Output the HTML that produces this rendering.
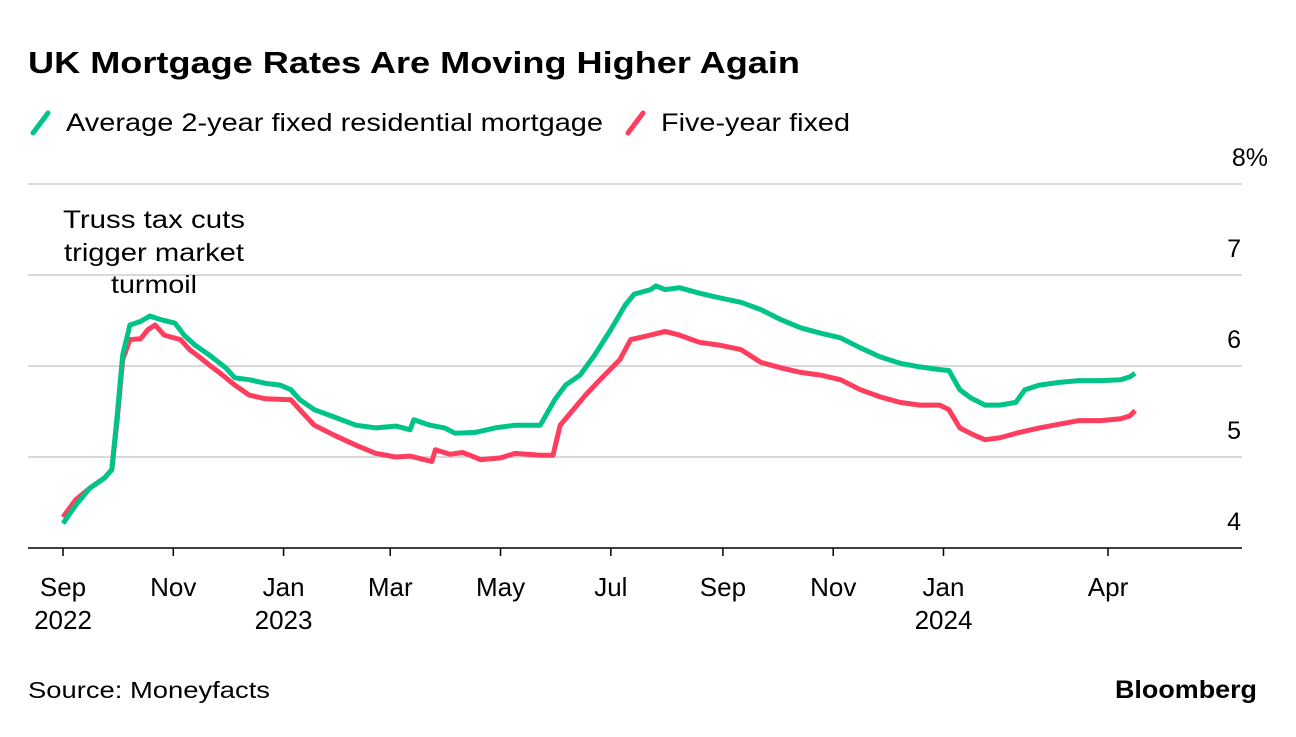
<!DOCTYPE html>
<html><head><meta charset="utf-8"><style>
body{margin:0;background:#fff;font-family:"Liberation Sans",sans-serif;}
svg text{font-family:"Liberation Sans",sans-serif;fill:#000;}
</style></head><body>
<svg id="c" width="1296" height="732">
<text x="28" y="73" font-size="31" font-weight="bold" textLength="772" lengthAdjust="spacingAndGlyphs">UK Mortgage Rates Are Moving Higher Again</text>
<g>
<line x1="33" y1="133" x2="48" y2="113" stroke="#00c389" stroke-width="5" stroke-linecap="round"/>
<text x="66" y="131" font-size="25" textLength="537" lengthAdjust="spacingAndGlyphs">Average 2-year fixed residential mortgage</text>
<line x1="628" y1="133" x2="643" y2="113" stroke="#ff3d5f" stroke-width="5" stroke-linecap="round"/>
<text x="661" y="131" font-size="25" textLength="189" lengthAdjust="spacingAndGlyphs">Five-year fixed</text>
</g>
<g id="grid"></g><g id="xax"></g><g id="lines"></g>
<g font-size="25" text-anchor="middle">
<text x="154" y="228" textLength="182" lengthAdjust="spacingAndGlyphs">Truss tax cuts</text>
<text x="154" y="261" textLength="180" lengthAdjust="spacingAndGlyphs">trigger market</text>
<text x="154" y="293" textLength="86" lengthAdjust="spacingAndGlyphs">turmoil</text>
</g>
<text x="28" y="698" font-size="23" textLength="242" lengthAdjust="spacingAndGlyphs">Source: Moneyfacts</text>
<text x="1257" y="698" font-size="25" font-weight="bold" text-anchor="end" textLength="142" lengthAdjust="spacingAndGlyphs">Bloomberg</text>
</svg>
<script>
const days2=[0,7,15,23,27,30,33,37,43,48,54,62,67,73,81,90,95,103,112,120,126,131,139,150,162,173,184,192,194,203,211,217,228,239,250,264,272,278,286,294,303,311,316,325,328,333,341,352,363,375,386,397,408,419,430,441,452,463,474,485,490,496,502,510,518,527,532,540,551,562,574,585,590,593];
const vals2=[4.27,4.47,4.66,4.77,4.86,5.46,6.12,6.45,6.49,6.55,6.51,6.47,6.34,6.23,6.12,5.98,5.87,5.85,5.81,5.79,5.74,5.63,5.52,5.44,5.35,5.32,5.34,5.30,5.41,5.35,5.32,5.26,5.27,5.32,5.35,5.35,5.63,5.79,5.90,6.12,6.40,6.67,6.79,6.84,6.88,6.84,6.86,6.80,6.75,6.70,6.62,6.51,6.42,6.36,6.31,6.20,6.10,6.03,5.99,5.96,5.95,5.74,5.65,5.57,5.57,5.60,5.74,5.79,5.82,5.84,5.84,5.85,5.88,5.92];
const days5=[0,7,15,23,27,30,33,37,43,47,51,56,65,70,76,81,87,95,103,112,126,131,139,150,162,173,184,192,200,204,206,214,221,225,231,242,250,264,271,275,281,289,297,308,314,325,333,341,352,363,375,386,397,408,419,430,441,452,463,474,485,490,496,504,510,518,529,540,551,562,574,585,590,593];
const vals5=[4.34,4.53,4.66,4.77,4.86,5.41,6.07,6.29,6.30,6.40,6.45,6.34,6.29,6.18,6.09,6.01,5.92,5.79,5.68,5.64,5.63,5.52,5.35,5.24,5.13,5.04,5.00,5.01,4.97,4.95,5.08,5.03,5.05,5.02,4.97,4.99,5.04,5.02,5.02,5.35,5.49,5.68,5.85,6.07,6.29,6.34,6.38,6.34,6.26,6.23,6.18,6.04,5.98,5.93,5.90,5.85,5.74,5.66,5.60,5.57,5.57,5.52,5.32,5.24,5.19,5.21,5.27,5.32,5.36,5.40,5.40,5.42,5.45,5.51];
const yTicks=[4,5,6,7,8];
const xTickDays=[0,61,122,181,242,303,365,426,487,578];
const xTickLabels=[["Sep","2022"],["Nov"],["Jan","2023"],["Mar"],["May"],["Jul"],["Sep"],["Nov"],["Jan","2024"],["Apr"]];
const X=d=>63+d*1.808, Y=v=>548-(v-4)*91;
const NS="http://www.w3.org/2000/svg";
function mk(t,a,p){const e=document.createElementNS(NS,t);for(const k in a)e.setAttribute(k,a[k]);p.appendChild(e);return e;}
const g=document.getElementById('grid');
yTicks.forEach(v=>{
 if(v>4){const l=mk('line',{x1:28,x2:1242,y1:Y(v),y2:Y(v),stroke:'#d9d9d9','stroke-width':2},g);
 
 }
 const t=mk('text',{x:v==8?1268:1241,y:Y(v)-18,'font-size':25,'text-anchor':'end'},g);
 t.textContent=v==8?'8%':String(v);
 
 
});
const xa=document.getElementById('xax');
const base=mk('line',{x1:28,x2:1242,y1:548,y2:548,stroke:'#000','stroke-width':1.5},xa);


xTickDays.forEach((d,i)=>{
 const tk=mk('line',{x1:X(d),x2:X(d),y1:548,y2:556,stroke:'#000','stroke-width':1.5},xa);
 
 
 xTickLabels[i].forEach((s,j)=>{
  const t=mk('text',{x:X(d),y:596+j*33,'font-size':26,'text-anchor':'middle'},xa);
  t.textContent=s;
  
  
 });
});
const lg=document.getElementById('lines');
function line(ds,vs,c,n){
 const p=mk('path',{d:ds.map((d,i)=>(i?'L':'M')+X(d).toFixed(1)+','+Y(vs[i]).toFixed(1)).join(''),fill:'none',stroke:c,'stroke-width':5,'stroke-linejoin':'round'},lg);
 
 
}
line(days5,vals5,'#ff3d5f','series-5yr-fixed');
line(days2,vals2,'#00c389','series-2yr-fixed');
</script>
</body></html>
